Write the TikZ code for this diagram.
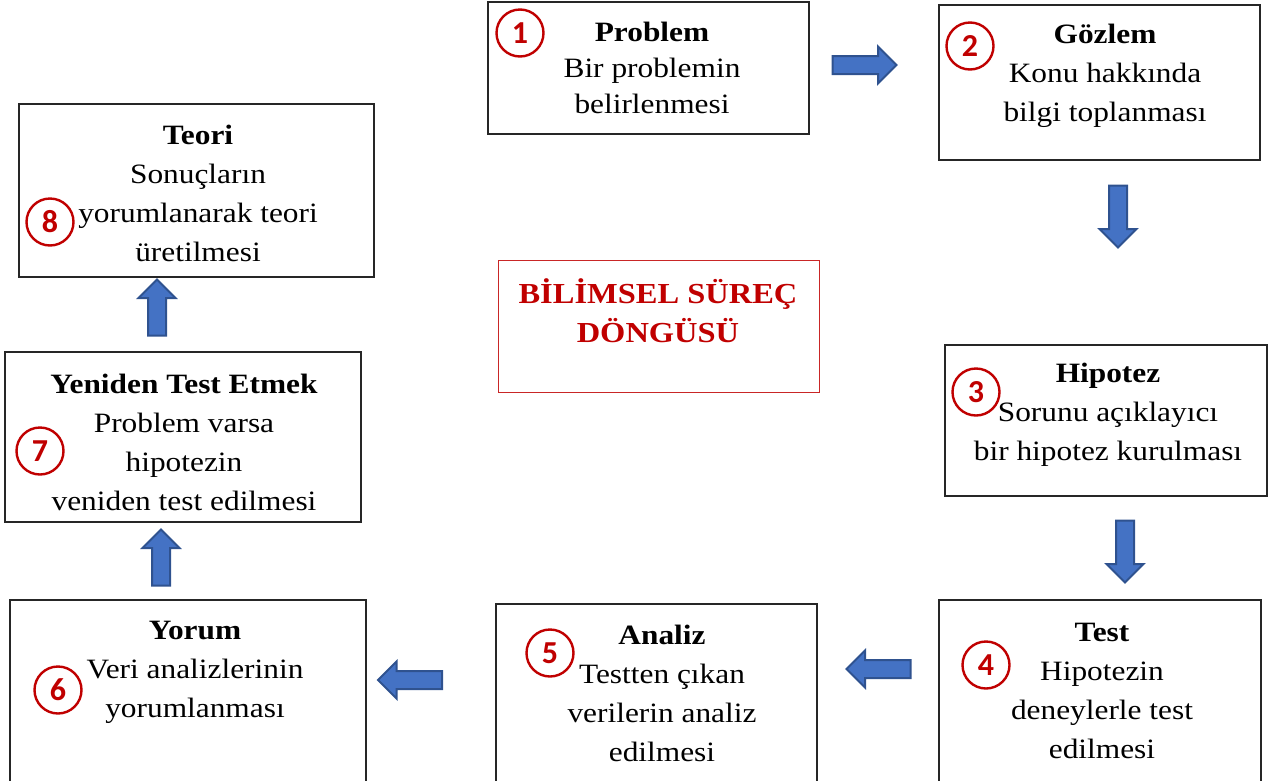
\documentclass[tikz,border=0pt]{standalone}
\usepackage{fontspec}
\setmainfont{Liberation Serif}[FakeStretch=1.12]
\newfontfamily\badgefont{Carlito}
\usetikzlibrary{shapes.arrows}
\definecolor{arrowblue}{HTML}{4472C4}
\definecolor{arrowedge}{HTML}{2F528F}
\definecolor{darkred}{HTML}{C00000}
\tikzset{
  stepbox/.style={draw=black!85, line width=1.3pt, inner sep=0pt},
  steptext/.style={align=center, font=\fontsize{28}{39}\selectfont},
  badge/.style={circle, draw=darkred, line width=2.4pt, fill=white, minimum size=47pt,
    inner sep=0pt, text=darkred, font=\badgefont\bfseries\fontsize{32}{32}\selectfont},
  flow/.style={single arrow, fill=arrowblue, draw=arrowedge, line width=2pt,
    inner xsep=0pt, inner ysep=8pt, single arrow head extend=9.5pt, minimum height=62pt},
}
\begin{document}
\begin{tikzpicture}[x=1pt,y=-1pt]
  \useasboundingbox (0,0) rectangle (1270,780);
  % boxes
  \node[stepbox, minimum width=321pt, minimum height=132pt] (problem) at (648.5,68) {};
  \node[stepbox, minimum width=321pt, minimum height=155pt] (gozlem) at (1099.5,82.5) {};
  \node[stepbox, minimum width=322pt, minimum height=151pt] (hipotez) at (1106,420.5) {};
  \node[stepbox, minimum width=322pt, minimum height=190pt] (test) at (1100,695) {};
  \node[stepbox, minimum width=321pt, minimum height=186pt] (analiz) at (656.5,697) {};
  \node[stepbox, minimum width=356pt, minimum height=190pt] (yorum) at (188,695) {};
  \node[stepbox, minimum width=356pt, minimum height=170pt] (yeniden) at (183,437) {};
  \node[stepbox, minimum width=355pt, minimum height=173pt] (teori) at (196.5,190.5) {};
  \node[draw=darkred!85, line width=1pt, minimum width=321pt, minimum height=132pt] (dongu) at (658.5,326) {};
  % texts
  \node[steptext, font=\fontsize{28}{36}\selectfont] (problemtxt) at (652,68)
    {\textbf{Problem}\\Bir problemin\\belirlenmesi};
  \node[steptext] (gozlemtxt) at (1105,76) {\textbf{Gözlem}\\Konu hakkında\\bilgi toplanması};
  \node[steptext] (hipoteztxt) at (1108,415) {\textbf{Hipotez}\\Sorunu açıklayıcı\\bir hipotez kurulması};
  \node[steptext] (testtxt) at (1102,691) {\textbf{Test}\\Hipotezin\\deneylerle test\\edilmesi};
  \node[steptext] (analiztxt) at (662,693) {\textbf{Analiz}\\Testten çıkan\\verilerin analiz\\edilmesi};
  \node[steptext] (yorumtxt) at (195,672) {\textbf{Yorum}\\Veri analizlerinin\\yorumlanması};
  \node[steptext] (yenidentxt) at (184,442) {\textbf{Yeniden Test Etmek}\\Problem varsa\\hipotezin\\veniden test edilmesi};
  \node[steptext] (teoritxt) at (198,193) {\textbf{Teori}\\Sonuçların\\yorumlanarak teori\\üretilmesi};
  \node[steptext, text=darkred, font=\bfseries\fontsize{29}{39}\selectfont] (dongutxt) at (658,311)
    {BİLİMSEL SÜREÇ\\DÖNGÜSÜ};
  % number badges
  \node[badge] (n1) at (520,33) {1};
  \node[badge] (n2) at (970,46) {2};
  \node[badge] (n3) at (976,392) {3};
  \node[badge] (n4) at (986,665) {4};
  \node[badge] (n5) at (550,653) {5};
  \node[badge] (n6) at (58,690) {6};
  \node[badge] (n7) at (40,451) {7};
  \node[badge] (n8) at (50,222) {8};
  % block arrows
  \node[flow, minimum height=64pt] (a12) at (860,65) {};
  \node[flow, rotate=-90] (a23) at (1118,212) {};
  \node[flow, rotate=-90] (a34) at (1125,547) {};
  \node[flow, rotate=180, minimum height=64pt] (a45) at (883,669) {};
  \node[flow, rotate=180, minimum height=64pt] (a56) at (414.5,680) {};
  \node[flow, rotate=90, minimum height=56pt] (a67) at (161,562) {};
  \node[flow, rotate=90, minimum height=56pt] (a78) at (157,312) {};
\end{tikzpicture}
\end{document}
